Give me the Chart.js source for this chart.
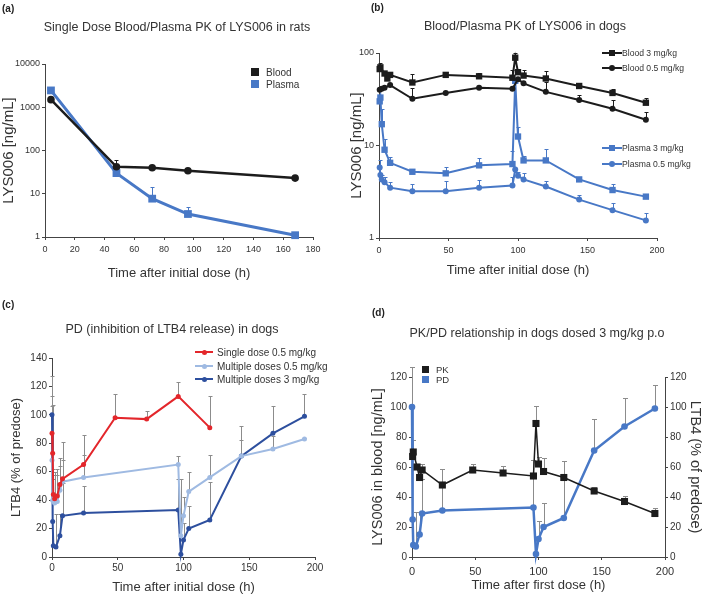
<!DOCTYPE html>
<html>
<head>
<meta charset="utf-8">
<script src="https://cdn.jsdelivr.net/npm/chart.js@4.4.1/dist/chart.umd.min.js"></script>
<style>
  body { margin: 0; background: #fff; }
  #fig { position: relative; width: 709px; height: 597px; overflow: hidden;
         font-family: "Liberation Sans", Arial, sans-serif; color: #333; }
  #fig canvas { position: absolute; }
  .lab { position: absolute; font-weight: bold; font-size: 10px; color: #222; }
  .ttl { position: absolute; font-size: 12.5px; white-space: nowrap; transform: translate(-50%, -50%); }
  .lg { position: absolute; white-space: nowrap; transform: translateY(-50%); color: #333; }
  .mk { position: absolute; }
</style>
</head>
<body>
<div id="fig">
  <canvas id="ca" width="335" height="285" style="left:0;top:0"></canvas>
  <canvas id="cb" width="361" height="285" style="left:348px;top:0"></canvas>
  <canvas id="cc" width="335" height="307" style="left:0;top:290px"></canvas>
  <canvas id="cd" width="359" height="307" style="left:350px;top:290px"></canvas>

  <div class="lab" style="left:2px;top:3px">(a)</div>
  <div class="lab" style="left:371px;top:2px">(b)</div>
  <div class="lab" style="left:2px;top:299px">(c)</div>
  <div class="lab" style="left:372px;top:307px">(d)</div>

  <div class="ttl" style="left:177px;top:27px">Single Dose Blood/Plasma PK of LYS006 in rats</div>
  <div class="ttl" style="left:525px;top:26px">Blood/Plasma PK of LYS006 in dogs</div>
  <div class="ttl" style="left:172px;top:329px">PD (inhibition of LTB4 release) in dogs</div>
  <div class="ttl" style="left:537px;top:333px">PK/PD relationship in dogs dosed 3 mg/kg p.o</div>
</div>

<script>
// (a) rats, single dose
const aTime = [4, 48, 72, 96, 168];
const aBlood = [1500, 42, 40, 34, 23];
const aBloodHi = [null, 60, null, null, null];
const aPlasma = [2450, 30, 7.7, 3.4, 1.1];
const aPlasmaHi = [null, null, 14, 4.9, null];
const aTicks = [1, 10, 100, 1000, 10000];

// (b) dogs PK
const bBlood3Time = [0.5, 1, 4, 6, 8, 24, 48, 72, 96, 98, 100, 104, 120, 144, 168, 192];
const bBlood3 = [67, 70, 60, 53, 58, 48, 58, 56, 54, 89, 62, 57, 53, 44, 37, 29];
const bBlood3Hi = [null, 78, 62, null, 62, 59, 62, 61, 65, 101, 67, 66, 64, 47, 41, 33];
const bBlood05Time = [0.5, 2, 4, 8, 24, 48, 72, 96, 100, 104, 120, 144, 168, 192];
const bBlood05 = [40, 41, 42, 45, 32, 37, 42, 41, 52, 47, 38, 31, 25, 19];
const bBlood05Hi = [null, null, null, null, 42, null, null, null, null, null, 48, 35, 31, 23];
const bPlasma3Time = [0.5, 1, 2, 4, 8, 24, 48, 72, 96, 98, 100, 104, 120, 144, 168, 192];
const bPlasma3 = [30, 33, 17, 9, 6.5, 5.2, 5.0, 6.1, 6.3, 50, 12.5, 6.9, 6.9, 4.3, 3.3, 2.8];
const bPlasma3Hi = [null, null, 25, 11.7, 7.6, null, 5.8, 7.3, 8.8, null, 15.7, 7.7, 9.2, 4.6, 3.8, null];
const bPlasma05Time = [0.5, 1, 2, 4, 8, 24, 48, 72, 96, 98, 100, 104, 120, 144, 168, 192];
const bPlasma05 = [5.8, 4.8, 4.3, 4.0, 3.5, 3.2, 3.2, 3.5, 3.7, 5.5, 4.7, 4.3, 3.6, 2.6, 2.0, 1.55];
const bPlasma05Hi = [6.9, null, 4.8, 4.6, 4.0, 3.8, 4.1, 4.2, 4.6, null, 5.2, 5.0, 4.1, 2.9, 2.4, 1.85];
const bTicks = [1, 10, 100];

// (c) dogs PD, LTB4 % of predose
const cSingleTime = [0, 0.5, 1, 2, 4, 6, 8, 24, 48, 72, 96, 120];
const cSingle = [87, 73, 44, 41, 43, 51, 55, 65, 98, 97, 113, 91];
const cSingleHi = [106, 107, null, 60, 62, 64, 81, 86, 115, 103, 123, 113];
const cMulti05Time = [0, 0.5, 1, 2, 4, 6, 8, 24, 96, 98, 100, 104, 120, 144, 168, 192];
const cMulti05 = [68, 40, 39, 38, 39, 47, 53, 56, 65, 15, 29, 46, 56, 71, 76, 83];
const cMulti05Hi = [113, 55, 62, 58, 58, 70, 68, 72, 71, 55, 42, 60, 72, 82, 85, 84];
const pdTime = [0, 0.5, 1, 3, 6, 8, 24, 96, 98, 100, 104, 120, 144, 168, 192];
const pd3 = [100, 25, 8, 7, 15, 29, 31, 33, 2, 12, 20, 26, 71, 87, 99];
const pd3Hi = [127, null, null, 30, 30, 52, 50, 55, null, 24, 36, 53, 92, 106, 115];

const BLACK = '#1c1c1c', BLUE = '#4878c6', RED = '#e3262b', LIGHT = '#9fbae2', DARK = '#2d4f9e', GREY = '#8c8c8c';

Chart.defaults.font.family = '"Liberation Sans", Arial, sans-serif';
Chart.defaults.color = '#333';

const pts = (t, v) => t.map((x, i) => ({ x: x, y: v[i] }));

// vertical upper error bars, drawn through the chart's own scales
const errorBars = {
  id: 'errorBars',
  beforeDatasetsDraw(chart) {
    const ctx = chart.ctx;
    chart.data.datasets.forEach((ds, i) => {
      if (!ds.errHi) return;
      const meta = chart.getDatasetMeta(i);
      const xs = chart.scales[meta.xAxisID], ys = chart.scales[meta.yAxisID];
      ctx.save();
      ctx.strokeStyle = ds.errColor;
      ctx.lineWidth = 1;
      ds.data.forEach((p, j) => {
        const hi = ds.errHi[j];
        if (hi == null) return;
        const x = Math.round(xs.getPixelForValue(p.x)) + 0.5;
        const y0 = ys.getPixelForValue(p.y), y1 = Math.round(ys.getPixelForValue(hi)) + 0.5;
        ctx.beginPath();
        ctx.moveTo(x, y0); ctx.lineTo(x, y1);
        ctx.moveTo(x - ds.errCap, y1); ctx.lineTo(x + ds.errCap, y1);
        ctx.stroke();
      });
      ctx.restore();
    });
  }
};

function series(label, data, color, shape, r, lw, hi, errColor, cap) {
  return {
    label: label, data: data, borderColor: color, backgroundColor: color,
    pointStyle: shape, pointRadius: r, pointBorderWidth: 0, borderWidth: lw,
    tension: 0, clip: 10, errHi: hi, errColor: errColor || color, errCap: cap || 2
  };
}

function xAxis(min, max, step, title, h, fs, tpad, lpad) {
  return {
    type: 'linear', min: min, max: max,
    ticks: { stepSize: step, font: { size: fs }, padding: lpad, maxRotation: 0, color: '#333' },
    grid: { drawOnChartArea: false, tickLength: 3, color: '#444' },
    border: { color: '#444' },
    title: { display: true, text: title, font: { size: 13 }, padding: { top: 0, bottom: tpad }, color: '#333' },
    afterFit: s => { s.height = h; }
  };
}

function yAxis(opt) {
  const ax = {
    type: opt.log ? 'logarithmic' : 'linear', min: opt.min, max: opt.max, position: opt.pos || 'left',
    ticks: { font: { size: opt.fs }, padding: 2, color: '#333', callback: v => String(v) },
    grid: { drawOnChartArea: false, tickLength: 3, color: '#444' },
    border: { color: '#444' },
    title: { display: true, text: opt.title, font: { size: opt.tfs }, padding: { top: opt.tpad, bottom: 0 }, color: '#333' },
    afterFit: s => { s.width = opt.w; }
  };
  if (opt.tickVals) ax.afterBuildTicks = s => { s.ticks = opt.tickVals.map(v => ({ value: v })); };
  if (opt.step) ax.ticks.stepSize = opt.step;
  return ax;
}

function baseOptions(padding, scales) {
  return {
    responsive: false, animation: false,
    layout: { padding: padding },
    plugins: { legend: { display: false }, tooltip: { enabled: false } },
    scales: scales
  };
}

// (a)
new Chart(document.getElementById('ca'), {
  type: 'line',
  data: { datasets: [
    series('Blood', pts(aTime, aBlood), BLACK, 'circle', 3.8, 2.5, aBloodHi, BLACK, 2),
    series('Plasma', pts(aTime, aPlasma), BLUE, 'rect', 5.5, 3, aPlasmaHi, BLUE, 2)
  ] },
  options: baseOptions({ top: 64, right: 22 }, {
    x: xAxis(0, 180, 20, 'Time after initial dose (h)', 48, 9, 4, 4),
    y: yAxis({ log: true, min: 1, max: 10000, tickVals: aTicks, title: 'LYS006 [ng/mL]', w: 45, fs: 9, tfs: 15, tpad: 0 })
  }),
  plugins: [errorBars]
});

// (b)
new Chart(document.getElementById('cb'), {
  type: 'line',
  data: { datasets: [
    series('Blood 3 mg/kg', pts(bBlood3Time, bBlood3), BLACK, 'rect', 4.5, 2, bBlood3Hi, BLACK, 2),
    series('Blood 0.5 mg/kg', pts(bBlood05Time, bBlood05), BLACK, 'circle', 3, 2, bBlood05Hi, BLACK, 2),
    series('Plasma 3 mg/kg', pts(bPlasma3Time, bPlasma3), BLUE, 'rect', 4.5, 2, bPlasma3Hi, BLUE, 2),
    series('Plasma 0.5 mg/kg', pts(bPlasma05Time, bPlasma05), BLUE, 'circle', 3, 2, bPlasma05Hi, BLUE, 2)
  ] },
  options: baseOptions({ top: 53, right: 52 }, {
    x: xAxis(0, 200, 50, 'Time after initial dose (h)', 47, 9, 7, 4),
    y: yAxis({ log: true, min: 1, max: 100, tickVals: bTicks, title: 'LYS006 [ng/mL]', w: 31, fs: 9, tfs: 15, tpad: 0 })
  }),
  plugins: [errorBars]
});

// (c)
new Chart(document.getElementById('cc'), {
  type: 'line',
  data: { datasets: [
    series('Single dose 0.5 mg/kg', pts(cSingleTime, cSingle), RED, 'circle', 2.5, 2, cSingleHi, GREY, 2),
    series('Multiple doses 0.5 mg/kg', pts(cMulti05Time, cMulti05), LIGHT, 'circle', 2.5, 2, cMulti05Hi, GREY, 2),
    series('Multiple doses 3 mg/kg', pts(pdTime, pd3), DARK, 'circle', 2.5, 2, pd3Hi, GREY, 2)
  ] },
  options: baseOptions({ top: 68, right: 20 }, {
    x: xAxis(0, 200, 50, 'Time after initial dose (h)', 40, 10, 2, 2),
    y: yAxis({ min: 0, max: 140, step: 20, title: 'LTB4 (% of predose)', w: 52, fs: 10, tfs: 13, tpad: 9 })
  }),
  plugins: [errorBars]
});

// (d)
const pk = series('PK', pts(bBlood3Time, bBlood3), BLACK, 'rect', 5, 1.5, bBlood3Hi, GREY, 2.5);
const pdSet = series('PD', pts(pdTime, pd3), BLUE, 'circle', 3.3, 2.5, pd3Hi, GREY, 2.5);
pdSet.yAxisID = 'y2';
new Chart(document.getElementById('cd'), {
  type: 'line',
  data: { datasets: [pk, pdSet] },
  options: baseOptions({ top: 87, right: 0 }, {
    x: xAxis(0, 200, 50, 'Time after first dose (h)', 40, 11, 4, 5),
    y: yAxis({ min: 0, max: 120, step: 20, title: 'LYS006 in blood [ng/mL]', w: 62, fs: 10, tfs: 14.5, tpad: 19 }),
    y2: yAxis({ min: 0, max: 120, step: 20, pos: 'right', title: 'LTB4 (% of predose)', w: 44, fs: 10, tfs: 14.5, tpad: 5 })
  }),
  plugins: [errorBars]
});

// legends
const fig = document.getElementById('fig');
function box(cls, css, text) {
  const d = document.createElement('div');
  d.className = cls;
  Object.assign(d.style, css);
  if (text) d.textContent = text;
  fig.appendChild(d);
}
function legend(items, o) {
  items.forEach((it, i) => {
    const y = o.rows[i];
    if (o.lineW) box('mk', { left: (o.mx - o.lineW / 2) + 'px', top: (y - 1) + 'px', width: o.lineW + 'px', height: '2px', background: it.color });
    const s = it.shape === 'circle' ? o.cs : o.ss;
    box('mk', { left: (o.mx - s / 2) + 'px', top: (y - s / 2) + 'px', width: s + 'px', height: s + 'px',
      background: it.color, borderRadius: it.shape === 'circle' ? '50%' : '0' });
    box('lg', { left: o.tx + 'px', top: y + 'px', fontSize: o.fs + 'px' }, it.label);
  });
}
legend([{ label: 'Blood', color: BLACK, shape: 'rect' }, { label: 'Plasma', color: BLUE, shape: 'rect' }],
  { rows: [72, 84], mx: 255, ss: 8, cs: 8, tx: 266, fs: 10 });
legend([{ label: 'Blood 3 mg/kg', color: BLACK, shape: 'rect' }, { label: 'Blood 0.5 mg/kg', color: BLACK, shape: 'circle' }],
  { rows: [53, 68], mx: 612, lineW: 20, ss: 6, cs: 6, tx: 622, fs: 8.6 });
legend([{ label: 'Plasma 3 mg/kg', color: BLUE, shape: 'rect' }, { label: 'Plasma 0.5 mg/kg', color: BLUE, shape: 'circle' }],
  { rows: [148, 164], mx: 612, lineW: 20, ss: 6, cs: 6, tx: 622, fs: 8.6 });
legend([{ label: 'Single dose 0.5 mg/kg', color: RED, shape: 'circle' },
        { label: 'Multiple doses 0.5 mg/kg', color: LIGHT, shape: 'circle' },
        { label: 'Multiple doses 3 mg/kg', color: DARK, shape: 'circle' }],
  { rows: [352, 366, 379], mx: 204, lineW: 18, ss: 5, cs: 5, tx: 217, fs: 10 });
legend([{ label: 'PK', color: BLACK, shape: 'rect' }, { label: 'PD', color: BLUE, shape: 'rect' }],
  { rows: [369, 379], mx: 425, ss: 7, cs: 7, tx: 436, fs: 9.5 });
</script>
</body>
</html>
